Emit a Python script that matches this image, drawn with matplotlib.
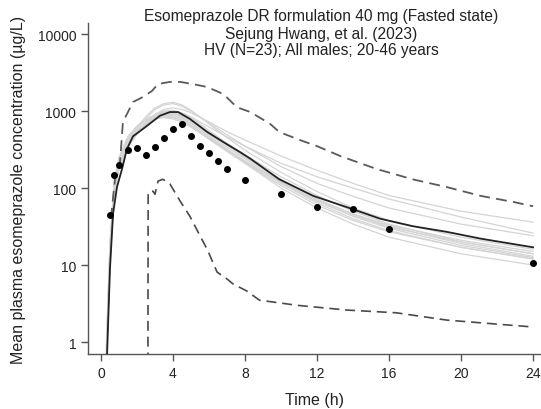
import numpy as np
import matplotlib
matplotlib.use('Agg')
import matplotlib.pyplot as plt

plt.rcParams['font.family'] = ['Liberation Sans', 'DejaVu Sans']

# observed mean concentrations (dots)
obs_t = [0.5, 0.75, 1, 1.5, 2, 2.5, 3, 3.5, 4, 4.5, 5, 5.5, 6, 6.5, 7, 8, 10, 12, 14, 16, 24]
obs_c = [45, 148, 199, 311, 330, 267, 340, 445, 585, 675, 473, 351, 285, 224, 176, 127, 83, 57, 53, 29, 10.6]

# simulated population mean
mean_t = [0.33, 0.5, 0.67, 0.89, 1.17, 1.44, 1.78, 2.33, 2.83, 3.28, 3.83, 4.28, 4.94, 5.9, 6.8, 7.7,
          8.3, 9.9, 11.8, 13.7, 15.5, 17.3, 19.2, 21.1, 24]
mean_c = [0.6, 9, 46, 103, 177, 320, 470, 585, 720, 870, 970, 970, 790, 535, 395, 295,
          240, 130, 79, 56, 40, 32, 27, 22, 17]

# 5th / 95th percentiles
upper_t = [0.55, 0.78, 1.06, 1.22, 1.78, 2.33, 2.83, 3.17, 3.83, 4.39, 5.1, 5.9, 6.8, 7.55, 8.3,
           9.4, 9.9, 10.9, 12, 13.3, 15.3, 17.3, 19.2, 21.1, 22.9, 24]
upper_c = [40, 131, 218, 720, 1310, 1520, 1820, 2240, 2390, 2390, 2240, 2050, 1660, 1120, 970,
           680, 535, 433, 350, 260, 177, 130, 103, 79, 66, 58]
lower_t = [2.6, 2.62, 2.89, 3.0, 3.17, 3.44, 3.83, 4.39, 4.94, 5.5, 5.9, 6.45, 7.0, 7.33, 8.1, 8.8,
           9.2, 10.9, 13.7, 16.4, 19.2, 22, 24]
lower_c = [0.01, 88, 91, 83, 123, 130, 113, 68, 43, 24, 16, 8.1, 6.6, 5.7, 4.6, 3.5,
           3.4, 3.0, 2.6, 2.4, 1.93, 1.71, 1.57]

# individual simulated trials (grey)
trial_t = [0.3, 0.5, 0.75, 1, 1.5, 2, 2.5, 3, 3.5, 4, 4.5, 5, 6, 7, 8, 10, 12, 14, 16, 20, 24]
trials = [
    [0.5, 12, 90, 180, 360, 520, 700, 900, 1050, 1100, 1050, 950, 720, 540, 420, 260, 170, 115, 80, 50, 36],
    [0.6, 15, 110, 210, 400, 580, 800, 1050, 1200, 1250, 1150, 1000, 700, 490, 350, 190, 115, 78, 55, 34, 24],
    [0.8, 18, 120, 230, 430, 620, 850, 1100, 1250, 1300, 1200, 1020, 680, 450, 310, 160, 90, 55, 38, 23, 16],
    [0.7, 14, 100, 200, 380, 540, 720, 900, 1000, 1020, 950, 820, 560, 380, 270, 140, 80, 50, 34, 20, 14],
    [0.5, 10, 85, 170, 340, 500, 650, 820, 920, 950, 880, 760, 530, 360, 250, 130, 72, 46, 32, 19, 13],
    [0.9, 20, 130, 250, 470, 640, 780, 900, 950, 930, 850, 730, 500, 340, 240, 120, 68, 43, 30, 18, 12.5],
    [0.6, 13, 95, 190, 360, 520, 680, 830, 880, 870, 800, 690, 470, 320, 225, 115, 64, 40, 28, 17, 12],
    [0.7, 16, 115, 220, 420, 600, 760, 880, 920, 900, 820, 700, 470, 310, 210, 100, 55, 34, 23, 14, 10],
    [0.5, 11, 90, 180, 350, 510, 660, 790, 840, 820, 750, 650, 450, 310, 220, 120, 70, 46, 33, 21, 15],
    [0.8, 17, 120, 240, 450, 620, 760, 850, 870, 840, 760, 650, 440, 300, 210, 108, 60, 38, 27, 17, 12],
    [0.6, 14, 105, 210, 400, 560, 700, 800, 820, 790, 720, 620, 430, 300, 215, 115, 67, 44, 31, 20, 14],
    [0.5, 12, 90, 190, 370, 530, 700, 880, 980, 1000, 940, 840, 620, 460, 350, 210, 140, 100, 72, 42, 26],
]

title_lines = ['Esomeprazole DR formulation 40 mg (Fasted state)',
               'Sejung Hwang, et al. (2023)',
               'HV (N=23); All males; 20-46 years']
x_ticks = [0, 4, 8, 12, 16, 20, 24]
y_ticks = [1, 10, 100, 1000, 10000]

fig = plt.figure(figsize=(5.41, 4.10), dpi=100)
ax = fig.add_axes([88 / 541, 1 - 355 / 410, 1 - 88 / 541, (355 - 24) / 410])

for c in trials:
    ax.plot(trial_t, c, color='#d4d4d4', lw=0.9, zorder=1)
ax.plot(upper_t, upper_c, color='#5a5a5a', lw=1.3, ls=(0, (6, 3.5)), zorder=2)
ax.plot(lower_t, lower_c, color='#4a4a4a', lw=1.2, ls=(0, (6, 3.5)), zorder=2)
ax.plot(mean_t, mean_c, color='#222222', lw=1.3, zorder=3)
ax.plot(obs_t, obs_c, 'o', color='black', ms=4.0, zorder=4)

ax.set_yscale('log')
ax.set_xlim(-0.72, 24.44)
ax.set_ylim(0.70, 13900)
ax.set_xticks(x_ticks)
ax.set_yticks(y_ticks)
ax.set_yticklabels([str(v) for v in y_ticks])
ax.minorticks_off()

for s in ['top', 'right']:
    ax.spines[s].set_visible(False)
for s in ['left', 'bottom']:
    ax.spines[s].set_color('#555555')
    ax.spines[s].set_linewidth(1.0)
ax.tick_params(colors='#555555', labelcolor='#222222', labelsize=10, length=5, width=1.0)

ax.set_xlabel('Time (h)', fontsize=11.5, color='#222222', labelpad=9)
ax.set_ylabel('Mean plasma esomeprazole concentration (µg/L)', fontsize=11.5, color='#222222', labelpad=8)

for i, line in enumerate(title_lines):
    fig.text(321 / 541, 1 - (17 + 17 * i) / 410, line, ha='center', va='center',
             fontsize=11.2, color='#222222')

fig.savefig('out.png', dpi=100)
